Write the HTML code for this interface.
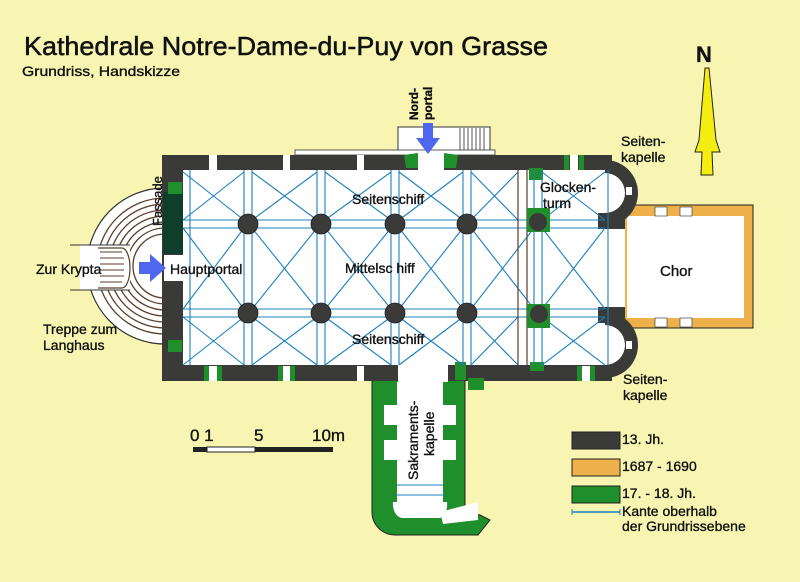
<!DOCTYPE html>
<html><head><meta charset="utf-8"><style>
html,body{margin:0;padding:0;background:#f8f5b2;}
svg{display:block}
text{font-family:"Liberation Sans",sans-serif;fill:#111;stroke:#111;stroke-width:0.35;}
</style></head><body>
<svg width="800" height="582" viewBox="0 0 800 582" xmlns="http://www.w3.org/2000/svg">
<rect width="800" height="582" fill="#f8f5b2"/>

<text x="24" y="55" font-size="26" textLength="524" lengthAdjust="spacingAndGlyphs" style="stroke-width:0.5">Kathedrale  Notre-Dame-du-Puy von Grasse</text>
<text x="22" y="76" font-size="14" textLength="158" lengthAdjust="spacingAndGlyphs">Grundriss, Handskizze</text>

<text x="696" y="62" font-size="22" font-weight="bold">N</text>
<polygon points="705,68 709,68 716,140 720,152 712,152 713,175 701,175 702,152 695,152 699,140" fill="#f4ee10" stroke="#222" stroke-width="1"/>

<!-- Stairs -->
<path d="M165,188 A78,78 0 0 0 165,344 Z" fill="#fff" stroke="#333" stroke-width="1.2"/>
<g fill="none" stroke="#5a3e2a" stroke-width="1.3">
<path d="M165,198 A68,68 0 0 0 165,334"/>
<path d="M165,204 A62,62 0 0 0 165,328"/>
<path d="M165,210 A56,56 0 0 0 165,322"/>
<path d="M165,216 A50,50 0 0 0 165,316"/>
<path d="M165,222 A44,44 0 0 0 165,310"/>
<path d="M165,228 A38,38 0 0 0 165,304"/>
<path d="M165,234 A32,32 0 0 0 165,298"/>
</g>
<rect x="80" y="245" width="50" height="45" fill="#fff"/>
<line x1="70" y1="245" x2="130" y2="245" stroke="#333"/>
<line x1="70" y1="290" x2="130" y2="290" stroke="#333"/>
<path d="M98,248 L122,248 A8,20 0 0 1 122,288 L98,288" fill="none" stroke="#5a3e2a" stroke-width="1.2"/>
<g stroke="#5a3e2a" stroke-width="1">
<line x1="100" y1="252" x2="122" y2="252"/><line x1="100" y1="258" x2="124" y2="258"/>
<line x1="100" y1="264" x2="124" y2="264"/><line x1="100" y1="270" x2="124" y2="270"/>
<line x1="100" y1="276" x2="124" y2="276"/><line x1="100" y1="282" x2="122" y2="282"/>
</g>
<circle cx="165" cy="268" r="26" fill="#fff"/>

<!-- North portal steps -->
<rect x="398" y="127" width="92" height="28" fill="#fff" stroke="#333" stroke-width="1"/>
<g stroke="#555" stroke-width="1"><line x1="460" y1="128" x2="460" y2="154"/><line x1="464" y1="128" x2="464" y2="154"/><line x1="468" y1="128" x2="468" y2="154"/><line x1="472" y1="128" x2="472" y2="154"/><line x1="476" y1="128" x2="476" y2="154"/><line x1="480" y1="128" x2="480" y2="154"/><line x1="484" y1="128" x2="484" y2="154"/></g>
<rect x="295" y="150" width="200" height="5" fill="#fff" stroke="#333" stroke-width="0.8"/>

<!-- Chor -->
<rect x="622" y="205" width="131" height="123" fill="#eeb04a" stroke="#222" stroke-width="1"/>
<rect x="627" y="216" width="117" height="102" fill="#fff"/>
<g fill="#fff" stroke="#444" stroke-width="0.7"><rect x="655" y="207" width="12" height="9"/><rect x="680" y="207" width="12" height="9"/><rect x="655" y="318" width="12" height="9"/><rect x="680" y="318" width="12" height="9"/></g>

<!-- Sakramentskapelle -->
<path d="M372,380 L465,380 L465,512 L480,515 L490,520 L478,535 L395,535 A23,23 0 0 1 372,512 Z" fill="#1f8f2c" stroke="#222" stroke-width="1"/>
<rect x="397" y="382" width="46" height="120" fill="#fff"/>
<path d="M393,502 L447,502 A10,14 0 0 1 440,518 L402,518 A10,14 0 0 1 393,502 Z" fill="#fff"/>
<rect x="384" y="405" width="13" height="20" fill="#fff"/>
<rect x="384" y="440" width="13" height="20" fill="#fff"/>
<rect x="443" y="405" width="13" height="20" fill="#fff"/>
<rect x="443" y="440" width="13" height="20" fill="#fff"/>
<polygon points="440,512 478,502 478,520 443,524" fill="#fff"/>
<line x1="397" y1="485" x2="443" y2="485" stroke="#1a7fc0"/>
<line x1="395" y1="495" x2="445" y2="495" stroke="#1a7fc0"/>

<!-- Main walls -->
<rect x="162" y="155" width="450" height="226" fill="#3a3a38"/>
<!-- Chapels -->
<path d="M600,160 A33,33 0 0 1 600,226 Z" fill="#3a3a38" transform="translate(5,0)"/>
<path d="M600,312 A33,33 0 0 1 600,378 Z" fill="#3a3a38" transform="translate(5,0)"/>
<rect x="183" y="170" width="422" height="195" fill="#fff"/>
<path d="M605,173 A20,20 0 0 1 605,213 Z" fill="#fff"/>
<path d="M605,325 A20,20 0 0 1 605,365 Z" fill="#fff"/>
<rect x="626" y="187" width="6" height="8" fill="#fff"/>
<rect x="626" y="341" width="6" height="8" fill="#fff"/>
<!-- facade -->
<rect x="163" y="192" width="20" height="62" fill="#0f3e2a"/>
<rect x="164" y="255" width="19" height="26" fill="#fff"/>
<!-- east wall -->
<rect x="600" y="228" width="25" height="80" fill="#fff"/>
<rect x="598" y="213" width="27" height="16" fill="#3a3a38"/>
<rect x="598" y="307" width="27" height="16" fill="#3a3a38"/>
<!-- north portal opening -->
<rect x="418" y="153" width="26" height="18" fill="#fff"/>
<polygon points="404,155 418,153 418,168 406,168" fill="#1f8f2c"/>
<polygon points="444,153 458,155 456,168 444,168" fill="#1f8f2c"/>
<g fill="#fff"><rect x="209" y="155" width="8" height="15"/><rect x="283" y="155" width="7" height="15"/><rect x="357" y="155" width="7" height="15"/><rect x="570" y="155" width="8" height="15"/>
<rect x="209" y="366" width="8" height="15"/><rect x="283" y="366" width="7" height="15"/><rect x="357" y="366" width="7" height="15"/><rect x="582" y="366" width="8" height="15"/></g>
<g fill="#1f8f2c"><rect x="564" y="155" width="5" height="15"/><rect x="579" y="155" width="5" height="15"/>
<rect x="204" y="366" width="5" height="15"/><rect x="217" y="366" width="5" height="15"/><rect x="278" y="366" width="5" height="15"/><rect x="290" y="366" width="5" height="15"/>
<rect x="577" y="366" width="5" height="15"/><rect x="590" y="366" width="5" height="15"/>
<rect x="168" y="182" width="14" height="12"/><rect x="168" y="340" width="14" height="12"/>
<rect x="529" y="168" width="14" height="12"/><rect x="530" y="362" width="14" height="9"/>
<rect x="455" y="362" width="11" height="18"/><rect x="468" y="378" width="16" height="12"/>
</g>
<rect x="398" y="364" width="50" height="18" fill="#fff"/>

<!-- Vault ribs -->
<g stroke="#1a80bf" stroke-width="1.1" fill="none">
<line x1="183" y1="220" x2="605" y2="220"/><line x1="183" y1="228" x2="605" y2="228"/>
<line x1="183" y1="309" x2="605" y2="309"/><line x1="183" y1="317" x2="605" y2="317"/>
<line x1="244" y1="170" x2="244" y2="365"/><line x1="252" y1="170" x2="252" y2="365"/>
<line x1="317" y1="170" x2="317" y2="365"/><line x1="325" y1="170" x2="325" y2="365"/>
<line x1="391" y1="170" x2="391" y2="365"/><line x1="399" y1="170" x2="399" y2="365"/>
<line x1="463" y1="170" x2="463" y2="365"/><line x1="471" y1="170" x2="471" y2="365"/>
<line x1="534" y1="170" x2="534" y2="365"/><line x1="542" y1="170" x2="542" y2="365"/>
<line x1="190" y1="170" x2="190" y2="365"/><line x1="608" y1="170" x2="608" y2="365"/>
<path d="M183,172 L244,220 M244,172 L183,220 M252,172 L317,220 M317,172 L252,220 M325,172 L391,220 M391,172 L325,220 M399,172 L463,220 M463,172 L399,220 M471,172 L518,220 M518,172 L471,220 M542,172 L605,220 M605,172 L542,220"/>
<path d="M183,317 L244,365 M244,317 L183,365 M252,317 L317,365 M317,317 L252,365 M325,317 L391,365 M391,317 L325,365 M399,317 L463,365 M463,317 L399,365 M471,317 L518,365 M518,317 L471,365 M542,317 L605,365 M605,317 L542,365"/>
<path d="M183,228 L244,309 M244,228 L183,309 M252,228 L317,309 M317,228 L252,309 M325,228 L391,309 M391,228 L325,309 M399,228 L463,309 M463,228 L399,309 M471,228 L534,309 M534,228 L471,309 M542,228 L605,309 M605,228 L542,309"/>
</g>
<g stroke="#5a3e2a" stroke-width="1.2"><line x1="518" y1="170" x2="518" y2="365"/><line x1="527" y1="170" x2="527" y2="365"/></g>

<g fill="#3a3a38" stroke="#222" stroke-width="0.8">
<circle cx="248" cy="224" r="10"/><circle cx="321" cy="224" r="10"/><circle cx="395" cy="224" r="10"/><circle cx="467" cy="224" r="10"/>
<circle cx="248" cy="313" r="10"/><circle cx="321" cy="313" r="10"/><circle cx="395" cy="313" r="10"/><circle cx="467" cy="313" r="10"/>
</g>
<rect x="527" y="208" width="23" height="24" fill="#1f8f2c"/><circle cx="538" cy="222" r="9" fill="#3a3a38"/>
<rect x="527" y="304" width="23" height="24" fill="#1f8f2c"/><circle cx="539" cy="314" r="9" fill="#3a3a38"/>

<polygon points="139,262 150,262 150,254 166,268 150,282 150,274 139,274" fill="#4f66ee"/>
<polygon points="423,123 433,123 433,138 440,138 428,154 416,138 423,138" fill="#4f66ee"/>

<g font-size="14">
<text x="352" y="204">Seitenschiff</text>
<text x="345" y="273">Mittelsc hiff</text>
<text x="352" y="344">Seitenschiff</text>
<text x="170" y="274">Hauptportal</text>
<text x="36" y="274">Zur Krypta</text>
<text x="43" y="334">Treppe zum</text>
<text x="43" y="350">Langhaus</text>
<text x="540" y="192">Glocken-</text>
<text x="543" y="208">turm</text>
<text x="660" y="276" font-size="15">Chor</text>
<text x="621" y="146">Seiten-</text>
<text x="621" y="162">kapelle</text>
<text x="623" y="384">Seiten-</text>
<text x="623" y="400">kapelle</text>
<text x="622" y="444">13. Jh.</text>
<text x="622" y="471">1687 - 1690</text>
<text x="622" y="498">17. - 18. Jh.</text>
<text x="622" y="516">Kante oberhalb</text>
<text x="622" y="531">der Grundrissebene</text>
</g>
<text transform="translate(162,226) rotate(-90)" font-size="13">Fassade</text>
<text transform="translate(418,120) rotate(-90)" font-size="12" font-weight="bold">Nord-</text>
<text transform="translate(432,120) rotate(-90)" font-size="12" font-weight="bold">portal</text>
<text transform="translate(418,480) rotate(-90)" font-size="14">Sakraments-</text>
<text transform="translate(434,456) rotate(-90)" font-size="14">kapelle</text>

<text x="190" y="441" font-size="17">0 1</text>
<text x="254" y="441" font-size="17">5</text>
<text x="312" y="441" font-size="17">10m</text>
<rect x="193" y="447" width="14" height="5" fill="#222"/>
<rect x="207" y="447" width="48" height="5" fill="#fff" stroke="#222" stroke-width="1"/>
<rect x="255" y="447" width="78" height="5" fill="#222"/>

<rect x="572" y="432" width="48" height="17" fill="#3a3a38" stroke="#222"/>
<rect x="572" y="459" width="48" height="17" fill="#eeb04a" stroke="#222"/>
<rect x="572" y="486" width="48" height="17" fill="#1f8f2c" stroke="#222"/>
<line x1="572" y1="512" x2="620" y2="512" stroke="#1a80bf" stroke-width="1.5"/>
<line x1="572" y1="509" x2="572" y2="515" stroke="#1a80bf"/><line x1="620" y1="509" x2="620" y2="515" stroke="#1a80bf"/>
</svg>
</body></html>
